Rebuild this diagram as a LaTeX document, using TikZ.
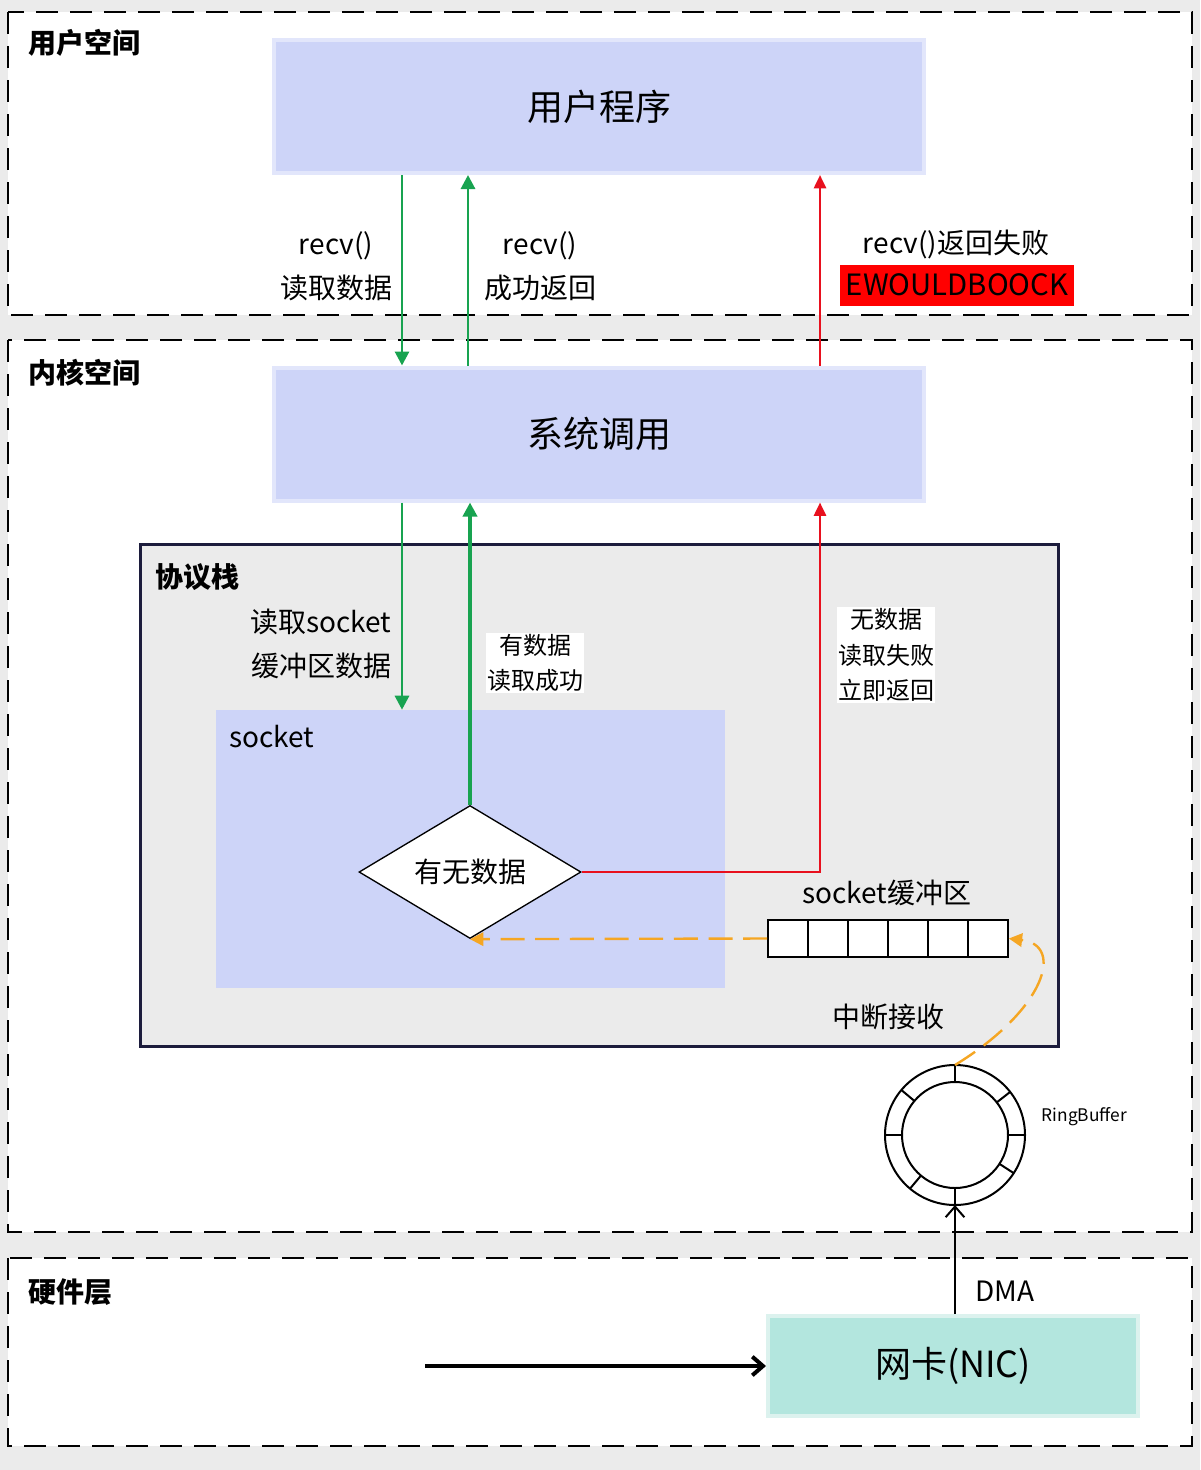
\documentclass[tikz,border=0pt]{standalone}
\usepackage{fontspec}
\setmainfont{Noto Sans CJK SC}
\usetikzlibrary{arrows.meta,positioning,shapes.geometric}
\definecolor{bggrey}{RGB}{235,235,235}
\definecolor{boxblue}{RGB}{205,212,248}
\definecolor{boxrim}{RGB}{226,230,251}
\definecolor{nicteal}{RGB}{179,230,222}
\definecolor{nicrim}{RGB}{220,242,238}
\definecolor{okgreen}{RGB}{24,163,80}
\definecolor{failred}{RGB}{232,16,30}
\definecolor{irqorange}{RGB}{245,166,35}
\definecolor{stacknavy}{RGB}{28,28,60}
\newcommand\fsz[2]{\fontsize{#1}{#2}\selectfont}

\tikzset{
  zone/.style={draw=black,fill=white,line width=1.6pt,dash pattern=on 16.5pt off 9pt},
  zonetitle/.style={anchor=west,font=\fsz{21}{24}\bfseries,inner sep=0pt},
  bluebox/.style={fill=boxblue,draw=boxrim,line width=3pt,inner sep=0pt,font=\fsz{27}{30}},
  lbl/.style={align=center,font=\fsz{21}{33},inner sep=1pt},
  smalllbl/.style={align=center,font=\fsz{18}{26.7},fill=white,inner sep=1pt},
  garrow/.style={draw=okgreen,line width=2.2pt,-{Triangle[length=10.5pt,width=10.5pt]}},
  rarrow/.style={draw=failred,line width=2pt,-{Triangle[length=10pt,width=9pt]}},
  oarrow/.style={draw=irqorange,line width=1.8pt,dash pattern=on 18pt off 8pt,-{Triangle[length=10pt,width=10pt]}},
  barrow/.style={draw=black,line width=1.5pt,-{Straight Barb[length=8pt,width=14pt]}},
  cellbox/.style={draw=black,fill=white,line width=1.2pt,minimum width=30pt,minimum height=27.75pt,inner sep=0pt},
}

\begin{document}
\begin{tikzpicture}[x=0.75pt,y=-0.75pt]
  \useasboundingbox (0,0) rectangle (1200,1470);
  \fill[bggrey] (0,0) rectangle (1200,1470);
  % layers
  \draw[zone] (8,12) rectangle (1192,315);
  \draw[zone] (8,340) rectangle (1192,1232);
  \draw[zone] (8,1258) rectangle (1192,1446);
  \node[zonetitle] (tuser) at (28,43) {用户空间};
  \node[zonetitle] (tkern) at (28,373) {内核空间};
  \node[zonetitle] (thw) at (28,1292) {硬件层};
  % boxes
  \node[bluebox,minimum width=487.5pt,minimum height=99.75pt] (user) at (599,106.5) {用户程序};
  \node[bluebox,minimum width=487.5pt,minimum height=99.75pt] (sys) at (599,434) {系统调用};
  \node[draw=stacknavy,fill=bggrey,line width=2.25pt,minimum width=688.5pt,minimum height=376.5pt] (stack) at (599,795) {};
  \node[zonetitle] (tstack) at (155,577) {协议栈};
  \node[fill=boxblue,minimum width=381.75pt,minimum height=208.5pt] (sock) at (470.5,849) {};
  \node[anchor=west,font=\fsz{21}{24},inner sep=0pt] (tsock) at (229,737) {socket};
  \node[diamond,draw=black,fill=white,line width=1pt,aspect=1.67,inner sep=0pt,minimum width=166.5pt,minimum height=99.75pt,font=\fsz{21}{24}] (dia) at (470,872) {有无数据};
  % socket buffer
  \foreach \i in {1,...,6}
    \node[cellbox] (cell\i) at (748+40*\i,938.5) {};
  \node[font=\fsz{21}{24}] (tbuf) at (887,893) {socket缓冲区};
  \node[font=\fsz{21}{24}] (tirq) at (888,1017) {中断接收};
  % ring buffer
  \node[circle,draw=black,line width=1.5pt,minimum size=105pt,inner sep=0pt,outer sep=0pt] (ring) at (955,1135) {};
  \node[circle,draw=black,line width=1.5pt,minimum size=79.5pt,inner sep=0pt,outer sep=0pt] (ringin) at (ring.center) {};
  \foreach \a in {0,38,90,140,180,230,270,327}
    \draw[line width=1.5pt] (ring.\a) -- (ringin.\a);
  \node[anchor=west,font=\fsz{13}{16}] (tring) at (1037,1117) {RingBuffer};
  % nic
  \node[fill=nicteal,draw=nicrim,line width=3pt,minimum width=277.5pt,minimum height=75pt,font=\fsz{27}{30}] (nic) at (953,1366) {网卡(NIC)};
  % arrows
  \coordinate (xa) at (402,0);
  \coordinate (xb) at (468,0);
  \coordinate (xc) at (820,0);
  \draw[garrow] (user.south -| xa) -- (sys.north -| xa);
  \draw[garrow] (sys.north -| xb) -- (user.south -| xb);
  \draw[rarrow] (sys.north -| xc) -- (user.south -| xc);
  \draw[garrow] (sys.south -| xa) -- (sock.north -| xa);
  \draw[garrow,line width=3pt] (dia.north) -- (sys.south -| dia);
  \draw[rarrow] (dia.east) -| (sys.south -| xc);
  \draw[oarrow] (cell1.west) -- (dia.south);
  \draw[oarrow] (ring.north) .. controls (1045,1010) and (1065,945) .. (cell6.east);
  \draw[barrow] (nic.north -| ring) -- (ring.south);
  \coordinate (wire) at (425,1366);
  \draw[barrow,line width=3pt] (wire) -- (nic.west);
  % labels
  \node[lbl] (lread) at (336,266) {recv()\\读取数据};
  \node[lbl] (lok) at (540,266) {recv()\\成功返回};
  \node[lbl] (lfail) at (956,244) {recv()返回失败};
  \node[fill=red,minimum width=175.5pt,minimum height=30.75pt,inner sep=0pt,font=\fsz{22}{24}] (lerr) at (957,285) {EWOULDBOOCK};
  \node[lbl] (lsock) at (321,644) {读取socket\\缓冲区数据};
  \node[smalllbl] (lhas) at (535,663) {有数据\\读取成功};
  \node[smalllbl] (lnone) at (886,655) {无数据\\读取失败\\立即返回};
  \node[lbl] (ldma) at (1005,1291) {DMA};
\end{tikzpicture}
\end{document}
